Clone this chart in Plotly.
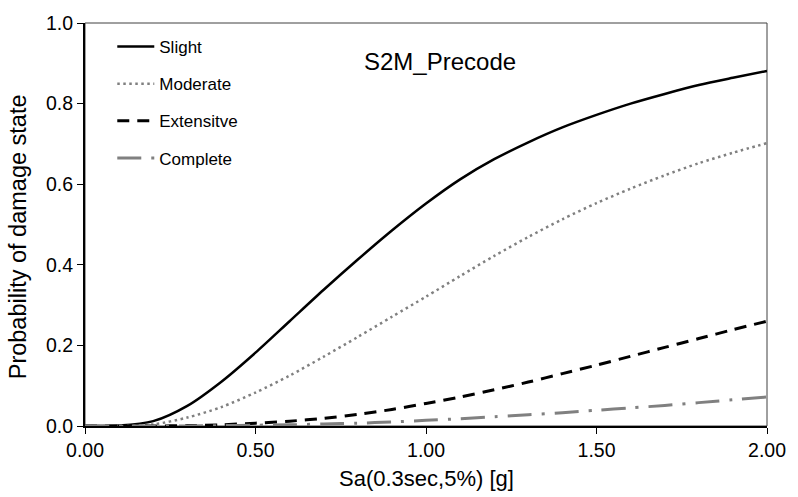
import plotly.graph_objects as go

# Spectral acceleration Sa(0.3 s, 5%) [g]
sa = [0.0, 0.1, 0.2, 0.3, 0.4, 0.5, 0.6, 0.7, 0.8, 0.9, 1.0,
      1.1, 1.2, 1.3, 1.4, 1.5, 1.6, 1.7, 1.8, 1.9, 2.0]

# Probability of reaching or exceeding each damage state
slight = [0.0, 0.001, 0.012, 0.050, 0.110, 0.182, 0.260, 0.338, 0.413, 0.485, 0.552,
          0.612, 0.662, 0.704, 0.741, 0.772, 0.800, 0.824, 0.846, 0.864, 0.881]
moderate = [0.0, 0.0, 0.004, 0.021, 0.047, 0.083, 0.125, 0.172, 0.221, 0.271, 0.321,
            0.372, 0.422, 0.469, 0.513, 0.553, 0.589, 0.622, 0.652, 0.678, 0.702]
extensive = [0.0, 0.0, 0.0, 0.001, 0.003, 0.007, 0.012, 0.019, 0.029, 0.041, 0.056,
             0.072, 0.090, 0.109, 0.130, 0.151, 0.173, 0.195, 0.217, 0.239, 0.260]
complete = [0.0, 0.0, 0.0, 0.0, 0.001, 0.002, 0.003, 0.005, 0.007, 0.010, 0.014,
            0.018, 0.023, 0.028, 0.033, 0.039, 0.045, 0.051, 0.058, 0.065, 0.072]

series_names = ["Slight", "Moderate", "Extensitve", "Complete"]
x_ticks = [0.0, 0.5, 1.0, 1.5, 2.0]
y_ticks = [0.0, 0.2, 0.4, 0.6, 0.8, 1.0]

FONT = "Arial, 'Liberation Sans', sans-serif"
GREY = "#808080"

styles = [
    dict(color="black", width=2.5, dash="solid"),
    dict(color=GREY, width=2.5, dash="2.5px,3.5px"),
    dict(color="black", width=3, dash="12px,8px"),
    dict(color=GREY, width=3, dash="24px,10px,3px,10px"),
]

fig = go.Figure()
for i, (name, ys, st) in enumerate(zip(series_names,
                                       [slight, moderate, extensive, complete],
                                       styles)):
    fig.add_trace(go.Scatter(
        x=sa, y=ys, mode="lines", name=name, legendgroup=f"g{i}",
        line=dict(shape="spline", smoothing=0.8, **st),
    ))

fig.update_layout(
    width=798, height=497,
    margin=dict(l=85, r=24, t=16, b=71),
    paper_bgcolor="white", plot_bgcolor="white",
    font=dict(family=FONT, color="black", size=18),
    showlegend=True,
    legend=dict(
        x=0.04, y=0.985, xanchor="left", yanchor="top",
        bgcolor="rgba(0,0,0,0)", borderwidth=0,
        font=dict(size=17, family=FONT, color="black"),
        tracegroupgap=12, itemwidth=37,
    ),
    xaxis=dict(
        range=[0, 2], tickvals=x_ticks, tickformat=".2f",
        showgrid=False, zeroline=False,
        showline=True, linecolor="black", linewidth=2,
        ticks="outside", ticklen=6, tickwidth=1, tickcolor="black",
        tickfont=dict(size=19.5),
    ),
    yaxis=dict(
        range=[0, 1], tickvals=y_ticks, tickformat=".1f",
        showgrid=False, zeroline=False,
        showline=True, linecolor="black", linewidth=2,
        ticks="outside", ticklen=6, tickwidth=1, tickcolor="black",
        tickfont=dict(size=19.5),
    ),
    shapes=[dict(type="rect", xref="paper", yref="paper", x0=0, y0=0, x1=1, y1=1,
                 line=dict(color="#404040", width=1), layer="below")],
    annotations=[
        dict(text="S2M_Precode", x=0.521, y=0.905, xref="paper", yref="paper",
             xanchor="center", yanchor="middle", showarrow=False,
             font=dict(size=24, family=FONT, color="black")),
        # axis titles
        dict(text="Sa(0.3sec,5%) [g]", x=0.5, y=-0.1306, xref="paper", yref="paper",
             xanchor="center", yanchor="middle", showarrow=False,
             font=dict(size=22, family=FONT, color="black")),
        dict(text="Probability of damage state", x=-0.0987, y=0.470,
             xref="paper", yref="paper", textangle=-90,
             xanchor="center", yanchor="middle", showarrow=False,
             font=dict(size=23.5, family=FONT, color="black")),
    ],
)

fig.write_html("out.html")
